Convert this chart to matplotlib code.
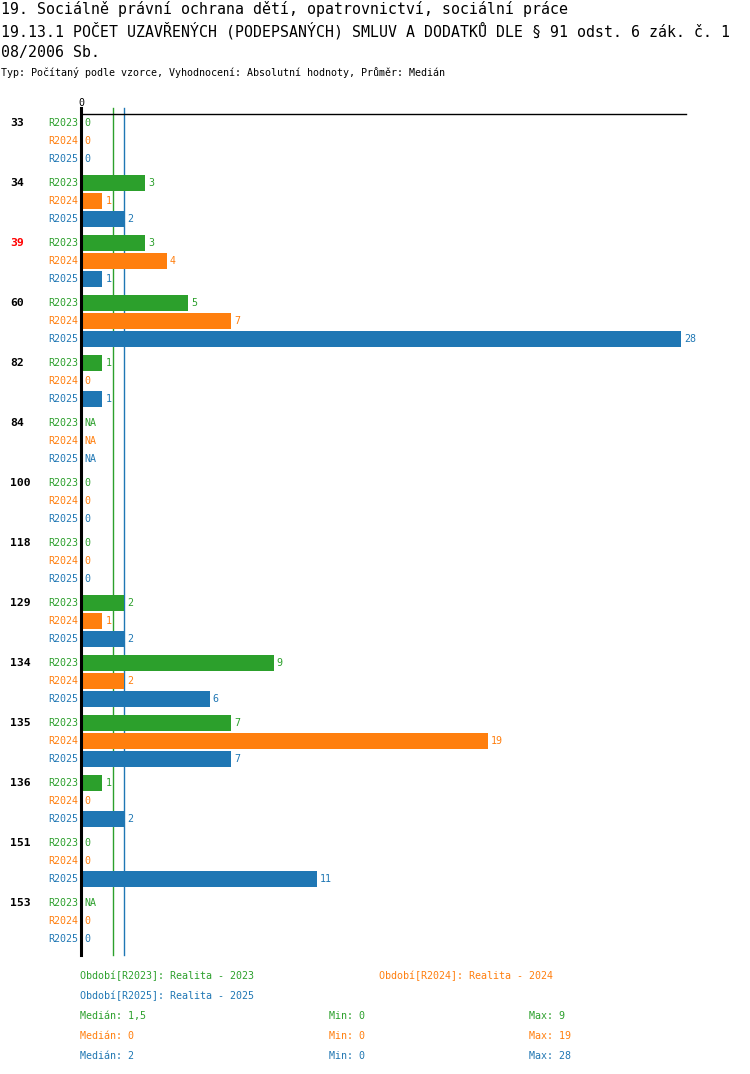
import matplotlib
matplotlib.use("Agg")
import matplotlib.pyplot as plt

groups = ['33', '34', '39', '60', '82', '84', '100', '118', '129', '134', '135', '136', '151', '153']
highlight = ['39']
series_names = ['R2023', 'R2024', 'R2025']
r2023 = [0, 3, 3, 5, 1, None, 0, 0, 2, 9, 7, 1, 0, None]
r2024 = [0, 1, 4, 7, 0, None, 0, 0, 1, 2, 19, 0, 0, 0]
r2025 = [0, 2, 1, 28, 1, None, 0, 0, 2, 6, 7, 2, 11, 0]
medians = [1.5, 0, 2]
mins = [0, 0, 0]
maxs = [9, 19, 28]
median_txt = ['1,5', '0', '2']
legend_names = ['Období[R2023]: Realita - 2023', 'Období[R2024]: Realita - 2024',
                'Období[R2025]: Realita - 2025']
title1 = '19. Sociálně právní ochrana dětí, opatrovnictví, sociální práce'
title2 = '19.13.1 POČET UZAVŘENÝCH (PODEPSANÝCH) SMLUV A DODATKŮ DLE § 91 odst. 6 zák. č. 1'
title3 = '08/2006 Sb.'
subtitle = 'Typ: Počítaný podle vzorce, Vyhodnocení: Absolutní hodnoty, Průměr: Medián'

colors = ['#2ca02c', '#ff7f0e', '#1f77b4']
FONT = 'DejaVu Sans Mono'
W, H = 750, 1074
fig = plt.figure(figsize=(W / 100, H / 100), dpi=100)

def fy(py):
    return 1 - py / H

def fx(px):
    return px / W

ax_left, ax_right, ax_top, ax_bot = 81, 686, 114, 955
ax = fig.add_axes([fx(ax_left), fy(ax_bot), fx(ax_right - ax_left), (ax_bot - ax_top) / H])
scale = 600 / 28.0
ax.set_xlim(0, (ax_right - ax_left) / scale)
ax.set_ylim(ax_bot, ax_top)
ax.axis('off')

data = [r2023, r2024, r2025]
first_row = 123
group_gap = 60
row_gap = 18
bar_h = 16

for gi, g in enumerate(groups):
    for si in range(3):
        y = first_row + gi * group_gap + si * row_gap
        v = data[si][gi]
        if v is not None and v > 0:
            ax.barh(y, v, height=bar_h, color=colors[si], left=0, zorder=2)
        lab = 'NA' if v is None else str(v)
        xv = 0 if v is None else v
        ax.annotate(lab, (xv, y), xytext=(3, 0), textcoords='offset pixels',
                    ha='left', va='center', fontsize=7.2, family=FONT,
                    color=colors[si], annotation_clip=False)
        ax.annotate(series_names[si], (0, y), xytext=(-3, 0), textcoords='offset pixels',
                    ha='right', va='center', fontsize=7.2, family=FONT,
                    color=colors[si], annotation_clip=False)
    gy = first_row + gi * group_gap
    fig.text(fx(10), fy(gy), g, ha='left', va='center', fontsize=8.2, family=FONT,
             weight='bold', color='#ff0000' if g in highlight else 'black')

for si in range(3):
    if medians[si] > 0:
        ax.plot([medians[si], medians[si]], [ax_bot, 108], color=colors[si], lw=1,
                clip_on=False, zorder=1)
ax.plot([0, (ax_right - ax_left) / scale], [ax_top, ax_top], color='black', lw=1, clip_on=False, zorder=3)
ax.plot([0, 0], [ax_bot, 108], color='black', lw=2.2, clip_on=False, zorder=4)
fig.text(fx(81), fy(103), '0', ha='center', va='center', fontsize=7.2, family=FONT)

fig.text(0.001, fy(9), title1, ha='left', va='center', fontsize=10.7, family=FONT)
fig.text(0.001, fy(31), title2, ha='left', va='center', fontsize=10.7, family=FONT)
fig.text(0.001, fy(52), title3, ha='left', va='center', fontsize=10.7, family=FONT)
fig.text(0.001, fy(73), subtitle, ha='left', va='center', fontsize=7.2, family=FONT)

fig.text(fx(80), fy(976), legend_names[0], ha='left', va='center', fontsize=7.2, family=FONT, color=colors[0])
fig.text(fx(379), fy(976), legend_names[1], ha='left', va='center', fontsize=7.2, family=FONT, color=colors[1])
fig.text(fx(80), fy(996), legend_names[2], ha='left', va='center', fontsize=7.2, family=FONT, color=colors[2])
for si in range(3):
    yy = 1016 + si * 20
    fig.text(fx(80), fy(yy), 'Medián: ' + median_txt[si], ha='left', va='center', fontsize=7.2, family=FONT, color=colors[si])
    fig.text(fx(329), fy(yy), 'Min: ' + str(mins[si]), ha='left', va='center', fontsize=7.2, family=FONT, color=colors[si])
    fig.text(fx(529), fy(yy), 'Max: ' + str(maxs[si]), ha='left', va='center', fontsize=7.2, family=FONT, color=colors[si])

fig.savefig('out.png', dpi=100)
